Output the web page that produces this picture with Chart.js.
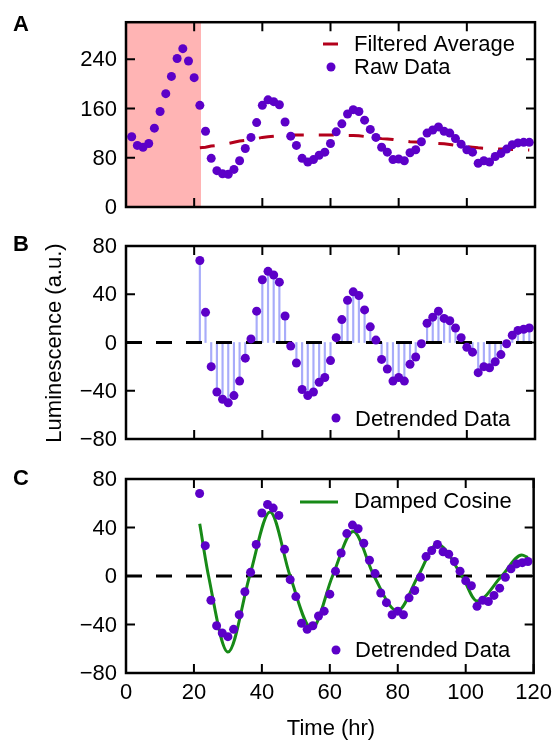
<!DOCTYPE html>
<html lang="en">
<head>
<meta charset="UTF-8">
<title>Luminescence - raw, detrended, damped cosine</title>
<script src="https://cdn.jsdelivr.net/npm/chart.js"></script>
<style>
  body { margin: 0; background: #fff; }
  .wrap { position: relative; width: 559px; height: 741px; }
  .wrap canvas { position: absolute; left: 0; top: 0; }
</style>
</head>
<body>
<div class="wrap">
  <canvas id="chartA" width="559" height="741"></canvas>
  <canvas id="chartB" width="559" height="741"></canvas>
  <canvas id="chartC" width="559" height="741"></canvas>
</div>

<script>
// sample times (hr)
const times = [1.67, 3.33, 5.00, 6.67, 8.33, 10.00, 11.67, 13.33, 15.00, 16.67,
  18.33, 20.00, 21.67, 23.33, 25.00, 26.67, 28.33, 30.00, 31.67, 33.33,
  35.00, 36.67, 38.33, 40.00, 41.67, 43.33, 45.00, 46.67, 48.33, 50.00,
  51.67, 53.33, 55.00, 56.67, 58.33, 60.00, 61.67, 63.33, 65.00, 66.67,
  68.33, 70.00, 71.67, 73.33, 75.00, 76.67, 78.33, 80.00, 81.67, 83.33,
  85.00, 86.67, 88.33, 90.00, 91.67, 93.33, 95.00, 96.67, 98.33, 100.00,
  101.67, 103.33, 105.00, 106.67, 108.33, 110.00, 111.67, 113.33, 115.00, 116.67, 118.33];

// panel A raw luminescence
const rawData = [114, 100, 97, 103, 128, 155, 184, 212, 241, 257,
  237, 210, 165, 123, 79, 59, 54, 53, 61, 75,
  95, 113, 137, 165, 174, 171, 166, 138, 115, 100,
  79, 73, 77, 84, 89, 103, 122, 135, 151, 158,
  155, 141, 126, 113, 97, 89, 77, 78, 75, 88,
  93, 106, 120, 125, 130, 123, 120, 111, 102, 93,
  89, 71, 75, 73, 82, 87, 94, 101, 104, 105, 105];

// first 12 samples are dropped (shaded part)
const detrendTimes = times.slice(12);

const filteredAvg = [96, 97, 99, 100, 101, 103, 105, 107, 108, 110,
  111, 113, 114, 115, 116, 116.5, 117, 117, 117, 117,
  117, 117, 117, 117, 117, 116.5, 116, 116, 115.5, 114.5,
  113.5, 112, 111, 110.5, 109.5, 108, 107, 106, 105.5, 105,
  104, 103.5, 103, 102.5, 101.5, 100, 99, 98,
  97, 96, 95.5, 95, 94.5, 94, 94, 93.5, 93, 93, 92.5];

const detrended = [68, 25, -20, -41, -47, -50, -44, -32, -13, 3,
  26, 52, 59, 56, 50, 22, -3, -17, -39, -44,
  -41, -33, -29, -15, 4, 19, 35, 42, 39, 27,
  13, 2, -14, -22, -32, -29, -32, -18, -12, -1,
  16, 21, 26, 20, 18, 12, 4, -4, -8, -25,
  -20, -21, -16, -10, -1, 6, 10, 11, 12];

// damped cosine fit, read at peaks / zero crossings
const cosineTimes = [21.7, 24.3, 30.0, 36.4, 42.4, 48.3, 54.7, 60.8, 66.9, 73.0,
  79.9, 86.0, 91.6, 98.9, 103.3, 110.6, 116.5, 118.3];
const cosineValues = [43, 0, -62.7, 0, 52.8, 0, -43.4, 0, 36.6, 0,
  -28.9, 0, 26.1, 0, -20.6, 0, 17.3, 15.2];

const shadeEnd = 22;
const xTicks = [0, 20, 40, 60, 80, 100, 120];
const yTicksA = [0, 80, 160, 240];
const yTicksB = [-80, -40, 0, 40, 80];

const purple = '#5c00c8';
const red = '#b3001b';
const green = '#178a17';
const stemColor = '#a8acfa';
const FONT = "'Liberation Sans', Arial, Helvetica, sans-serif";
const DOT_R = 4.5;

Chart.defaults.font.family = FONT;
Chart.defaults.color = '#000';

function pts(xs, ys) {
  return xs.map((x, i) => ({x: x, y: ys[i]}));
}

function minusLabel(v) {
  return v < 0 ? '\u2212' + Math.abs(v) : '' + v;
}

function xScale(showLabels) {
  return {
    type: 'linear', min: 0, max: 120, offset: false,
    afterBuildTicks: s => { s.ticks = xTicks.map(v => ({value: v})); },
    grid: {display: false, drawTicks: false},
    border: {display: false},
    ticks: {display: showLabels, padding: 7, font: {size: 22}, maxRotation: 0},
    afterFit: s => { s.height = showLabels ? 68 : 0; }
  };
}

function yScale(min, max, vals) {
  return {
    type: 'linear', min: min, max: max,
    afterBuildTicks: s => { s.ticks = vals.map(v => ({value: v})); },
    grid: {display: false, drawTicks: false},
    border: {display: false},
    ticks: {padding: 9, font: {size: 22}, labelOffset: 1, callback: minusLabel},
    afterFit: s => { s.width = 60; }
  };
}

// frame + inward ticks on all four sides, legend drawn inside the axes
const framePlugin = {
  id: 'panelFrame',
  beforeDatasetsDraw(chart, args, opts) {
    if (!opts.shade) return;
    const {ctx, chartArea: a, scales: {x}} = chart;
    ctx.save();
    ctx.fillStyle = 'rgb(255,180,180)';
    const x0 = x.getPixelForValue(0), x1 = x.getPixelForValue(shadeEnd);
    ctx.fillRect(x0, a.top, x1 - x0, a.bottom - a.top);
    ctx.restore();
  },
  afterDraw(chart, args, opts) {
    const {ctx, chartArea: a, scales: {x, y}} = chart;
    ctx.save();
    ctx.strokeStyle = '#000';
    ctx.lineWidth = 2;
    ctx.beginPath();
    xTicks.forEach(v => {
      const px = x.getPixelForValue(v);
      ctx.moveTo(px, a.bottom); ctx.lineTo(px, a.bottom - 9);
      ctx.moveTo(px, a.top); ctx.lineTo(px, a.top + 9);
    });
    opts.yTicks.forEach(v => {
      const py = y.getPixelForValue(v);
      ctx.moveTo(a.left, py); ctx.lineTo(a.left + 9, py);
      ctx.moveTo(a.right, py); ctx.lineTo(a.right - 9, py);
    });
    ctx.stroke();
    ctx.lineWidth = 2.5;
    ctx.strokeRect(a.left, a.top, a.right - a.left, a.bottom - a.top);

    // legend
    ctx.font = '22px ' + FONT;
    ctx.textAlign = 'left';
    ctx.textBaseline = 'alphabetic';
    (opts.legend || []).forEach(it => {
      if (it.kind === 'dot') {
        ctx.fillStyle = purple;
        ctx.beginPath();
        ctx.arc(it.x, it.y, DOT_R, 0, Math.PI * 2);
        ctx.fill();
      } else {
        ctx.strokeStyle = it.color;
        ctx.lineWidth = 3;
        ctx.beginPath();
        ctx.moveTo(it.x0, it.y); ctx.lineTo(it.x1, it.y);
        ctx.stroke();
      }
      ctx.fillStyle = '#000';
      ctx.fillText(it.text, it.tx, it.ty);
    });

    // labels shared by the whole figure
    if (opts.figureText) {
      ctx.font = 'bold 22px ' + FONT;
      ctx.fillText('A', 13, 31);
      ctx.fillText('B', 13, 251);
      ctx.fillText('C', 13, 485);
      ctx.font = '22px ' + FONT;
      ctx.textAlign = 'center';
      ctx.fillText('Time (hr)', 331, 735);
      ctx.translate(61, 343);
      ctx.rotate(-Math.PI / 2);
      ctx.fillText('Luminescence (a.u.)', 0, 0);
    }
    ctx.restore();
  }
};

const dots = (xs, ys) => ({
  type: 'line', data: pts(xs, ys), showLine: false,
  pointRadius: DOT_R, pointHoverRadius: DOT_R, pointBorderWidth: 0,
  pointBackgroundColor: purple, borderColor: purple, order: 0
});

const zeroLine = {
  type: 'line', data: [{x: 0, y: 0}, {x: 120, y: 0}],
  borderColor: '#000', borderWidth: 3, borderDash: [16, 14],
  pointRadius: 0, order: 2
};

function baseOptions(padding, yCfg, frameOpts, showX) {
  return {
    responsive: false,
    animation: false,
    events: [],
    layout: {padding: padding},
    scales: {x: xScale(showX), y: yCfg},
    plugins: {legend: {display: false}, tooltip: {enabled: false}, panelFrame: frameOpts}
  };
}

// A: raw data + filtered average
new Chart(document.getElementById('chartA'), {
  type: 'line',
  data: {datasets: [
    dots(times, rawData),
    {type: 'line', data: pts(detrendTimes, filteredAvg), borderColor: red, borderWidth: 3,
     borderDash: [15, 15], pointRadius: 0, order: 1}
  ]},
  options: baseOptions({left: 66, right: 24, top: 13, bottom: 534}, yScale(0, 300, yTicksA),
    {shade: true, yTicks: yTicksA, legend: [
      {kind: 'line', x0: 323, x1: 338, y: 44, color: red, text: 'Filtered Average', tx: 354, ty: 51},
      {kind: 'dot', x: 331, y: 67, text: 'Raw Data', tx: 354, ty: 74}
    ]}, false),
  plugins: [framePlugin]
});

// B: detrended data as stems
new Chart(document.getElementById('chartB'), {
  type: 'line',
  data: {datasets: [
    {type: 'bar', data: pts(detrendTimes, detrended), backgroundColor: stemColor,
     borderWidth: 0, barThickness: 1.5, order: 3},
    zeroLine,
    dots(detrendTimes, detrended)
  ]},
  options: baseOptions({left: 66, right: 24, top: 246, bottom: 302}, yScale(-80, 80, yTicksB),
    {yTicks: yTicksB, legend: [
      {kind: 'dot', x: 336, y: 418, text: 'Detrended Data', tx: 355, ty: 426}
    ]}, false),
  plugins: [framePlugin]
});

// C: detrended data + damped cosine fit
new Chart(document.getElementById('chartC'), {
  type: 'line',
  data: {datasets: [
    {type: 'line', data: pts(cosineTimes, cosineValues), borderColor: green, borderWidth: 3,
     cubicInterpolationMode: 'monotone', pointRadius: 0, order: 1},
    Object.assign({}, zeroLine),
    dots(detrendTimes, detrended)
  ]},
  options: baseOptions({left: 66, right: 24, top: 479, bottom: 0}, yScale(-80, 80, yTicksB),
    {yTicks: yTicksB, figureText: true, legend: [
      {kind: 'line', x0: 300, x1: 338, y: 502, color: green, text: 'Damped Cosine', tx: 354, ty: 508},
      {kind: 'dot', x: 336, y: 650, text: 'Detrended Data', tx: 355, ty: 657}
    ]}, true),
  plugins: [framePlugin]
});
</script>
</body>
</html>
